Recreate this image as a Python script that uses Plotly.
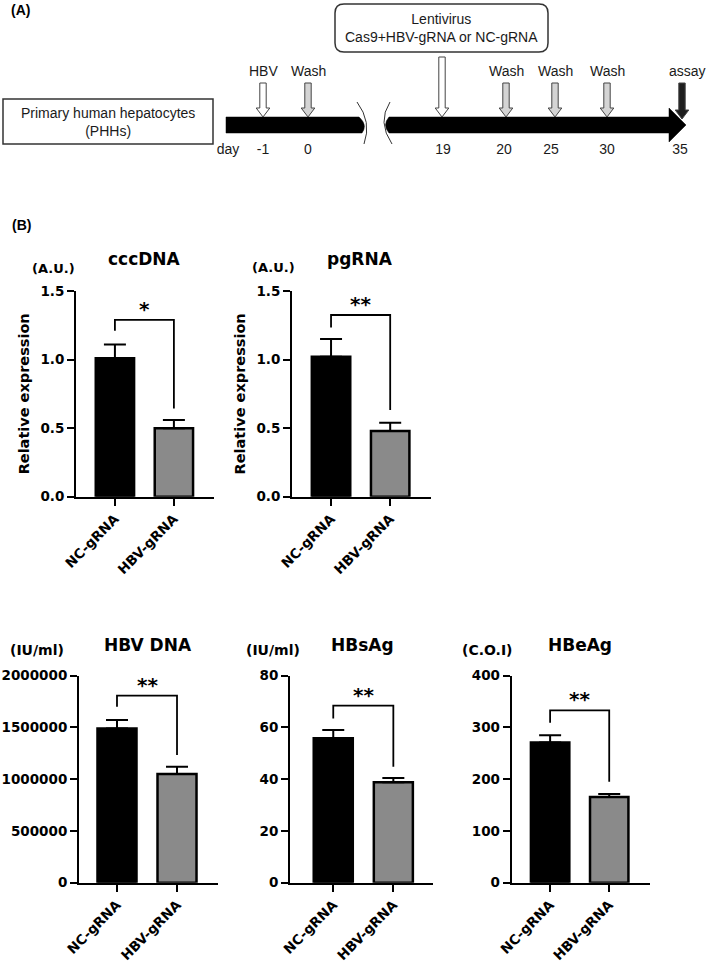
import plotly.graph_objects as go

W, H = 709, 966

# ---------------- data ----------------
categories = ["NC-gRNA", "HBV-gRNA"]

panel_titles = ["cccDNA", "pgRNA", "HBV DNA", "HBsAg", "HBeAg"]
panel_units = ["(A.U.)", "(A.U.)", "(IU/ml)", "(IU/ml)", "(C.O.I)"]

cccdna_mean = [1.01, 0.50]
cccdna_sem = [0.10, 0.06]
pgrna_mean = [1.02, 0.48]
pgrna_sem = [0.13, 0.06]
hbvdna_mean = [1490000, 1050000]
hbvdna_sem = [82000, 71000]
hbsag_mean = [55.8, 38.8]
hbsag_sem = [3.2, 1.7]
hbeag_mean = [271, 165.5]
hbeag_sem = [14, 6]

means = [cccdna_mean, pgrna_mean, hbvdna_mean, hbsag_mean, hbeag_mean]
sems = [cccdna_sem, pgrna_sem, hbvdna_sem, hbsag_sem, hbeag_sem]

sig_labels = ["*", "**", "**", "**", "**"]
bracket_top = [1.29, 1.325, 1807000, 68.4, 333]
bracket_left = [1.21, 1.233, 1700000, 63.5, 309]
bracket_right = [0.644, 0.632, 1233000, 44.8, 195]

y_max = [1.5, 1.5, 2000000, 80, 400]
y_dtick = [0.5, 0.5, 500000, 20, 100]
y_format = [".1f", ".1f", "d", "d", "d"]

# timeline (panel A)
tl_days = ["-1", "0", "19", "20", "25", "30", "35"]
tl_events = ["HBV", "Wash", "", "Wash", "Wash", "Wash", "assay"]
tl_box_text = "Primary human hepatocytes<br>(PHHs)"
tl_virus_text = "Lentivirus<br>Cas9+HBV-gRNA or NC-gRNA"

# ---------------- layout (pixels) ----------------
# x_left, x_right, y_top, y_bottom, range_lo, range_hi
panel_geom = [
    (76, 214, 291, 496.7, -0.66, 1.68),
    (292, 431, 291, 496.7, -0.66, 1.69),
    (79, 218, 675.7, 882.7, -0.633, 1.683),
    (290, 433, 675.7, 882.7, -0.72, 1.66),
    (511.7, 650, 675.7, 882.7, -0.65, 1.69),
]
title_pos = [(144, 259), (360, 259), (148, 645), (362, 645), (580, 645)]
unit_pos = [(53, 268), (273, 267), (37, 650), (273, 650), (487, 650)]

tl_x = [263, 308, 442, 506, 555, 607, 682]
tl_day_x = [263, 308, 443, 504, 551, 607, 680]
arrow_top = [83, 83, 57, 83, 83, 83, 83]
arrow_bot = [117, 117, 117, 117, 117, 117, 119]
arrow_fill = ["white", "#d4d4d4", "white", "#d4d4d4", "#d4d4d4", "#d4d4d4", "#1e1e1e"]

CF = "DejaVu Sans"
TF = "Liberation Sans, Arial, sans-serif"


def bfont(size):
    return dict(family=CF, size=size, color="black", weight="bold")


fig = go.Figure()
layout = dict(
    width=W, height=H, margin=dict(l=0, r=0, t=0, b=0, pad=0, autoexpand=False),
    paper_bgcolor="white", plot_bgcolor="rgba(0,0,0,0)", showlegend=False,
)
annotations = []
shapes = []

for i in range(5):
    k = i + 1
    xa = "x" if k == 1 else f"x{k}"
    ya = "y" if k == 1 else f"y{k}"
    xl, xr, yt, yb, r0, r1 = panel_geom[i]
    fig.add_trace(go.Bar(
        x=categories, y=means[i], xaxis=xa, yaxis=ya, width=0.65,
        marker=dict(color=["black", "#8a8a8a"], line=dict(color="black", width=2.5)),
        error_y=dict(type="data", symmetric=False, array=sems[i], arrayminus=[0, 0],
                     color="black", thickness=2, width=11),
        hoverinfo="skip",
    ))
    fig.add_trace(go.Scatter(
        x=[categories[0], categories[0], categories[1], categories[1]],
        y=[bracket_left[i], bracket_top[i], bracket_top[i], bracket_right[i]],
        xaxis=xa, yaxis=ya, mode="lines", line=dict(color="black", width=1.8),
        hoverinfo="skip",
    ))
    annotations.append(dict(
        x=0.5, y=bracket_top[i], xref=xa, yref=ya, text=sig_labels[i],
        showarrow=False, yanchor="bottom", yshift=-3, font=bfont(20),
    ))
    axis_common = dict(showline=True, linecolor="black", linewidth=2, ticks="outside",
                       ticklen=7, tickwidth=2, tickcolor="black", showgrid=False,
                       zeroline=False, fixedrange=True, tickfont=bfont(13.5),
                       automargin=False)
    xkey = "xaxis" if k == 1 else f"xaxis{k}"
    ykey = "yaxis" if k == 1 else f"yaxis{k}"
    layout[xkey] = dict(axis_common, domain=[xl / W, xr / W], anchor=ya, type="category",
                        range=[r0, r1], tickangle=-45, tickfont=bfont(13.5))
    ydict = dict(axis_common, domain=[1 - yb / H, 1 - yt / H], anchor=xa,
                 range=[0, y_max[i]], tick0=0, dtick=y_dtick[i], tickformat=y_format[i])
    if i < 2:
        ydict["title"] = dict(text="Relative expression", font=bfont(14.5), standoff=7)
    layout[ykey] = ydict

# hidden pixel axis for panel A and text positioning
layout["xaxis6"] = dict(domain=[0, 1], range=[0, W], visible=False, anchor="y6",
                        fixedrange=True, automargin=False)
layout["yaxis6"] = dict(domain=[0, 1], range=[H, 0], visible=False, anchor="x6",
                        fixedrange=True, automargin=False)

fig.add_trace(go.Scatter(
    x=[228] + tl_day_x, y=[150] * 8, text=["day"] + tl_days, mode="text",
    textfont=dict(family=TF, size=14, color="#1a1a1a"), xaxis="x6", yaxis="y6",
    hoverinfo="skip", cliponaxis=False,
))

for i in range(5):
    tx, ty = title_pos[i]
    annotations.append(dict(x=tx, y=ty, xref="x6", yref="y6", text=panel_titles[i],
                            showarrow=False, font=bfont(17)))
    ux, uy = unit_pos[i]
    annotations.append(dict(x=ux, y=uy, xref="x6", yref="y6", text=panel_units[i],
                            showarrow=False, font=bfont(13 if i < 2 else 14)))

annotations.append(dict(x=9, y=10, xref="x6", yref="y6", text="(A)", xanchor="left",
                        showarrow=False, font=dict(family=TF, size=14, color="black", weight="bold")))
annotations.append(dict(x=10, y=225, xref="x6", yref="y6", text="(B)", xanchor="left",
                        showarrow=False, font=dict(family=TF, size=14, color="black", weight="bold")))

# timeline boxes
shapes.append(dict(type="rect", xref="x6", yref="y6", x0=3, x1=213, y0=99, y1=144,
                   line=dict(color="#333", width=1.5), fillcolor="white"))
annotations.append(dict(x=108, y=121.5, xref="x6", yref="y6", text=tl_box_text,
                        showarrow=False, font=dict(family=TF, size=14, color="#1a1a1a")))
r = 9
x0, x1, y0, y1 = 335, 548, 4, 52
shapes.append(dict(type="path", xref="x6", yref="y6",
                   path=(f"M{x0 + r},{y0} L{x1 - r},{y0} Q{x1},{y0} {x1},{y0 + r} "
                         f"L{x1},{y1 - r} Q{x1},{y1} {x1 - r},{y1} L{x0 + r},{y1} "
                         f"Q{x0},{y1} {x0},{y1 - r} L{x0},{y0 + r} Q{x0},{y0} {x0 + r},{y0} Z"),
                   line=dict(color="#333", width=1.5), fillcolor="white"))
annotations.append(dict(x=441.5, y=28, xref="x6", yref="y6", text=tl_virus_text,
                        showarrow=False, font=dict(family=TF, size=14, color="#1a1a1a")))

# main black timeline bar with break
shapes.append(dict(type="path", xref="x6", yref="y6",
                   path="M226,117 L359,117 Q368,125 362,133 L226,133 Z",
                   fillcolor="black", line=dict(color="black", width=0.5)))
shapes.append(dict(type="path", xref="x6", yref="y6",
                   path="M389,117 Q382,125 389,133 L669,133 L669,142 L686,125 L669,108 L669,117 Z",
                   fillcolor="black", line=dict(color="black", width=0.5)))
shapes.append(dict(type="path", xref="x6", yref="y6", path="M357,102 Q372,122 364,144",
                   line=dict(color="#333", width=1)))
shapes.append(dict(type="path", xref="x6", yref="y6", path="M390,102 Q377,122 392,144",
                   line=dict(color="#333", width=1)))

# arrows
for i in range(len(tl_x)):
    cx, a0, a1 = tl_x[i], arrow_top[i], arrow_bot[i]
    sw, hw, hh = 3.2, 6.8, 9
    p = (f"M{cx - sw},{a0} L{cx + sw},{a0} L{cx + sw},{a1 - hh} L{cx + hw},{a1 - hh} "
         f"L{cx},{a1} L{cx - hw},{a1 - hh} L{cx - sw},{a1 - hh} Z")
    shapes.append(dict(type="path", xref="x6", yref="y6", path=p, fillcolor=arrow_fill[i],
                       line=dict(color="#444", width=1)))
    if tl_events[i]:
        annotations.append(dict(x=cx if i < 6 else 687, y=71, xref="x6", yref="y6",
                                text=tl_events[i], showarrow=False,
                                font=dict(family=TF, size=14, color="#1a1a1a")))

layout["annotations"] = annotations
layout["shapes"] = shapes
fig.update_layout(**layout)
fig.write_html("out.html", config={"displayModeBar": False},
               post_script="document.body.style.margin='0';")
